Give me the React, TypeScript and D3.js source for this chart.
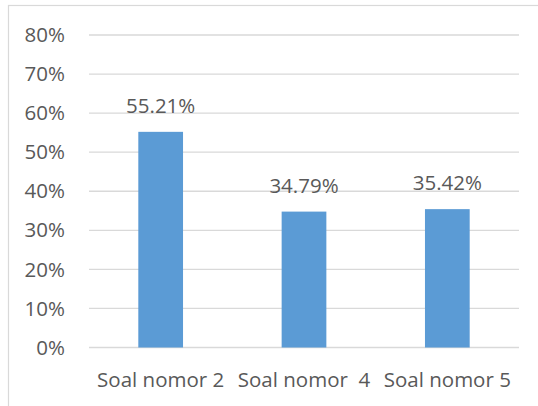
import React from "react";
import * as d3 from "d3";

const categories = ["Soal nomor 2", "Soal nomor  4", "Soal nomor 5"];
const values = [0.5521, 0.3479, 0.3542];
const valueLabels = ["55.21%", "34.79%", "35.42%"];
const yTicks = [0, 0.1, 0.2, 0.3, 0.4, 0.5, 0.6, 0.7, 0.8];

const W = 538;
const H = 406;
const FONT = "'Open Sans', sans-serif";
const TEXT = "#595959";
const GRID = "#d9d9d9";
const BAR = "#5b9bd5";

export default function App() {
  const x = d3.scaleBand<string>().domain(categories).range([89, 519]).padding(0);
  const y = d3.scaleLinear().domain([0, 0.8]).range([347.5, 35]);
  const barW = x.bandwidth() * 0.312;
  const fmt = d3.format(".0%");

  return (
    <svg
      width={W}
      height={H}
      style={{ position: "absolute", left: 0, top: 0, background: "#fff" }}
    >
      <rect x={0} y={0} width={W} height={H} fill="#fff" />
      <rect x={8.5} y={5.5} width={W + 20} height={H + 20} fill="none" stroke={GRID} strokeWidth={1.2} />
      {yTicks.map((t) => (
        <g key={t}>
          <line x1={89} x2={519} y1={y(t)} y2={y(t)} stroke={GRID} strokeWidth={1.3} />
          <text
            x={65}
            y={y(t)}
            dy="0.35em"
            textAnchor="end"
            fontFamily={FONT}
            fontSize={20.5}
            fill={TEXT}
          >
            {fmt(t)}
          </text>
        </g>
      ))}
      {categories.map((c, i) => {
        const cx = (x(c) as number) + x.bandwidth() / 2;
        return (
          <g key={c}>
            <rect x={cx - barW / 2} y={y(values[i])} width={barW} height={y(0) - y(values[i])} fill={BAR} />
            <text
              x={cx}
              y={y(values[i]) - 19}
              textAnchor="middle"
              fontFamily={FONT}
              fontSize={20.5}
              fill={TEXT}
            >
              {valueLabels[i]}
            </text>
            <text
              x={cx}
              y={386.5}
              textAnchor="middle"
              fontFamily={FONT}
              fontSize={20.5}
              fill={TEXT}
              style={{ whiteSpace: "pre" }}
            >
              {c}
            </text>
          </g>
        );
      })}
    </svg>
  );
}
